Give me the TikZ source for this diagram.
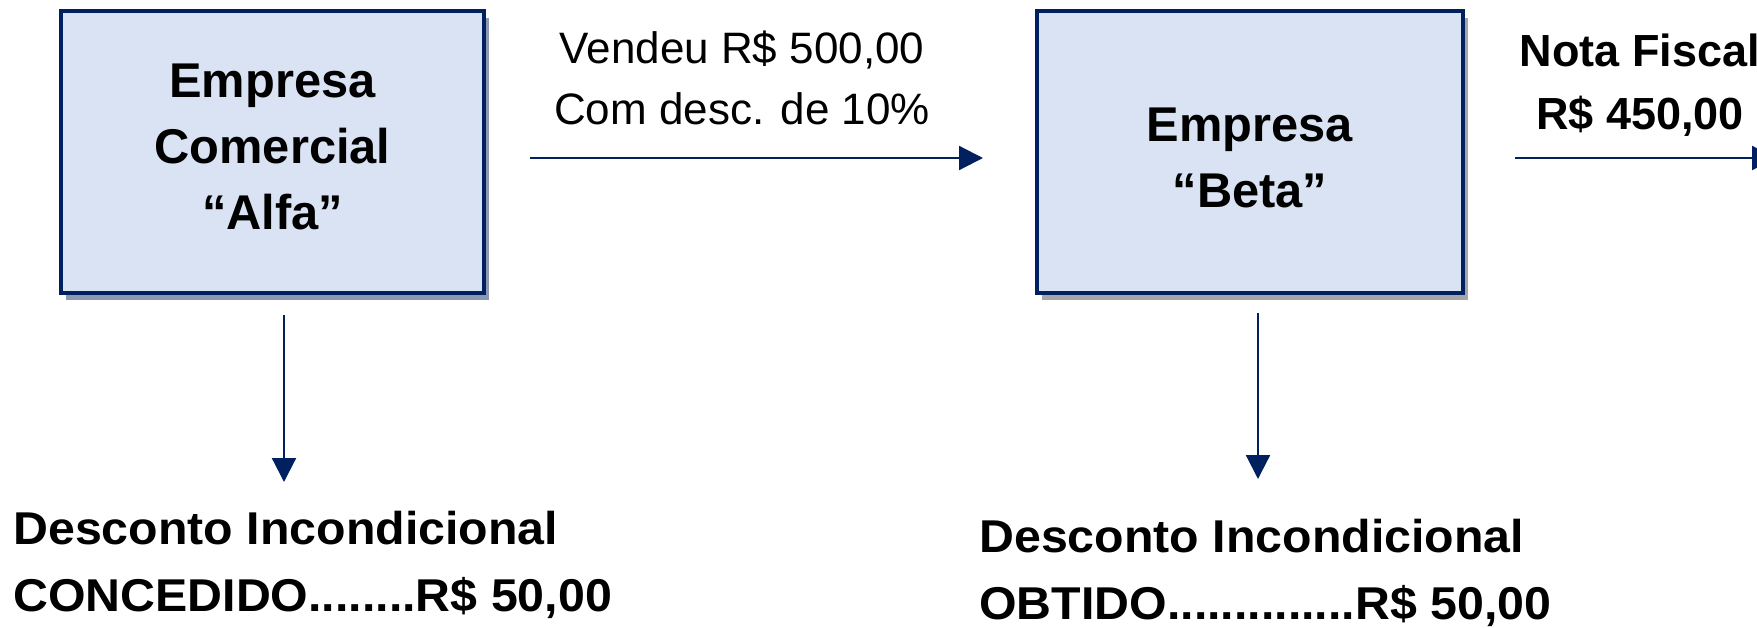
\documentclass[tikz,border=0pt]{standalone}
\usepackage{fontspec}
\setmainfont{Liberation Sans}
\newfontfamily\largo[FakeStretch=1.05]{Liberation Sans}
\usetikzlibrary{arrows.meta,shadows}
\definecolor{azulesc}{HTML}{002060}
\definecolor{azulcl}{HTML}{DAE3F3}
\definecolor{sombraazul}{HTML}{8C98B0}
\definecolor{sombracinza}{HTML}{A6A6A6}

\begin{document}
\begin{tikzpicture}[x=0.5pt,y=-0.5pt,
  empresa/.style={draw=azulesc, line width=2pt, fill=azulcl,
                  minimum height=141pt, align=center, inner sep=0pt,
                  font=\bfseries\fontsize{24.4}{33}\selectfont},
  seta/.style={draw=azulesc, line width=1.1pt,
               -{Triangle[length=12pt,width=12pt]}},
  desconto/.style={anchor=north west, align=left, inner sep=0pt,
                   font=\largo\bfseries\fontsize{23}{33.5}\selectfont},
  rotulo/.style={anchor=north, align=center, inner sep=0pt}]
  \useasboundingbox (0,0) rectangle (1757,627);

  % as duas empresas
  \node[empresa, minimum width=211.5pt, text depth=5pt,
        drop shadow={shadow xshift=2.5pt, shadow yshift=-3.5pt,
                     fill=sombraazul, opacity=1}]
    (alfa) at (272.5,152) {Empresa\\Comercial\\“Alfa”};
  \node[empresa, minimum width=213pt,
        drop shadow={shadow xshift=2.5pt, shadow yshift=-3.5pt,
                     fill=sombracinza, opacity=1}]
    (beta) at (1250,152) {\rule{0pt}{23pt}Empresa\\“Beta”};

  \node[rotulo, font=\fontsize{22}{30.5}\selectfont]
    (vendeu) at (742,31) {Vendeu R\$ 500,00\\Com desc. de 10\%};
  \node[rotulo, font=\bfseries\fontsize{22.5}{31.5}\selectfont]
    (nota) at (1640,33) {Nota Fiscal\\R\$ 450,00};

  \node[desconto] (desc1) at (13,511)
    {Desconto Incondicional\\CONCEDIDO........R\$ 50,00};
  \node[desconto] (desc2) at (979,519)
    {Desconto Incondicional\\OBTIDO..............R\$ 50,00};

  \coordinate (nfim) at (1776,158);

  \draw[seta, shorten <=22pt, shorten >=26pt]
    ([yshift=-3pt]alfa.east) -- ([yshift=-3pt]beta.west);
  \draw[seta, shorten <=25pt] ([yshift=-3pt]beta.east) -- (nfim);
  \draw[seta, shorten <=10pt, shorten >=14.5pt]
    ([xshift=5.75pt]alfa.south) -- ([xshift=5.75pt]alfa.south |- desc1.north);
  \draw[seta, shorten <=9pt, shorten >=20pt]
    ([xshift=4pt]beta.south) -- ([xshift=4pt]beta.south |- desc2.north);
\end{tikzpicture}
\end{document}
